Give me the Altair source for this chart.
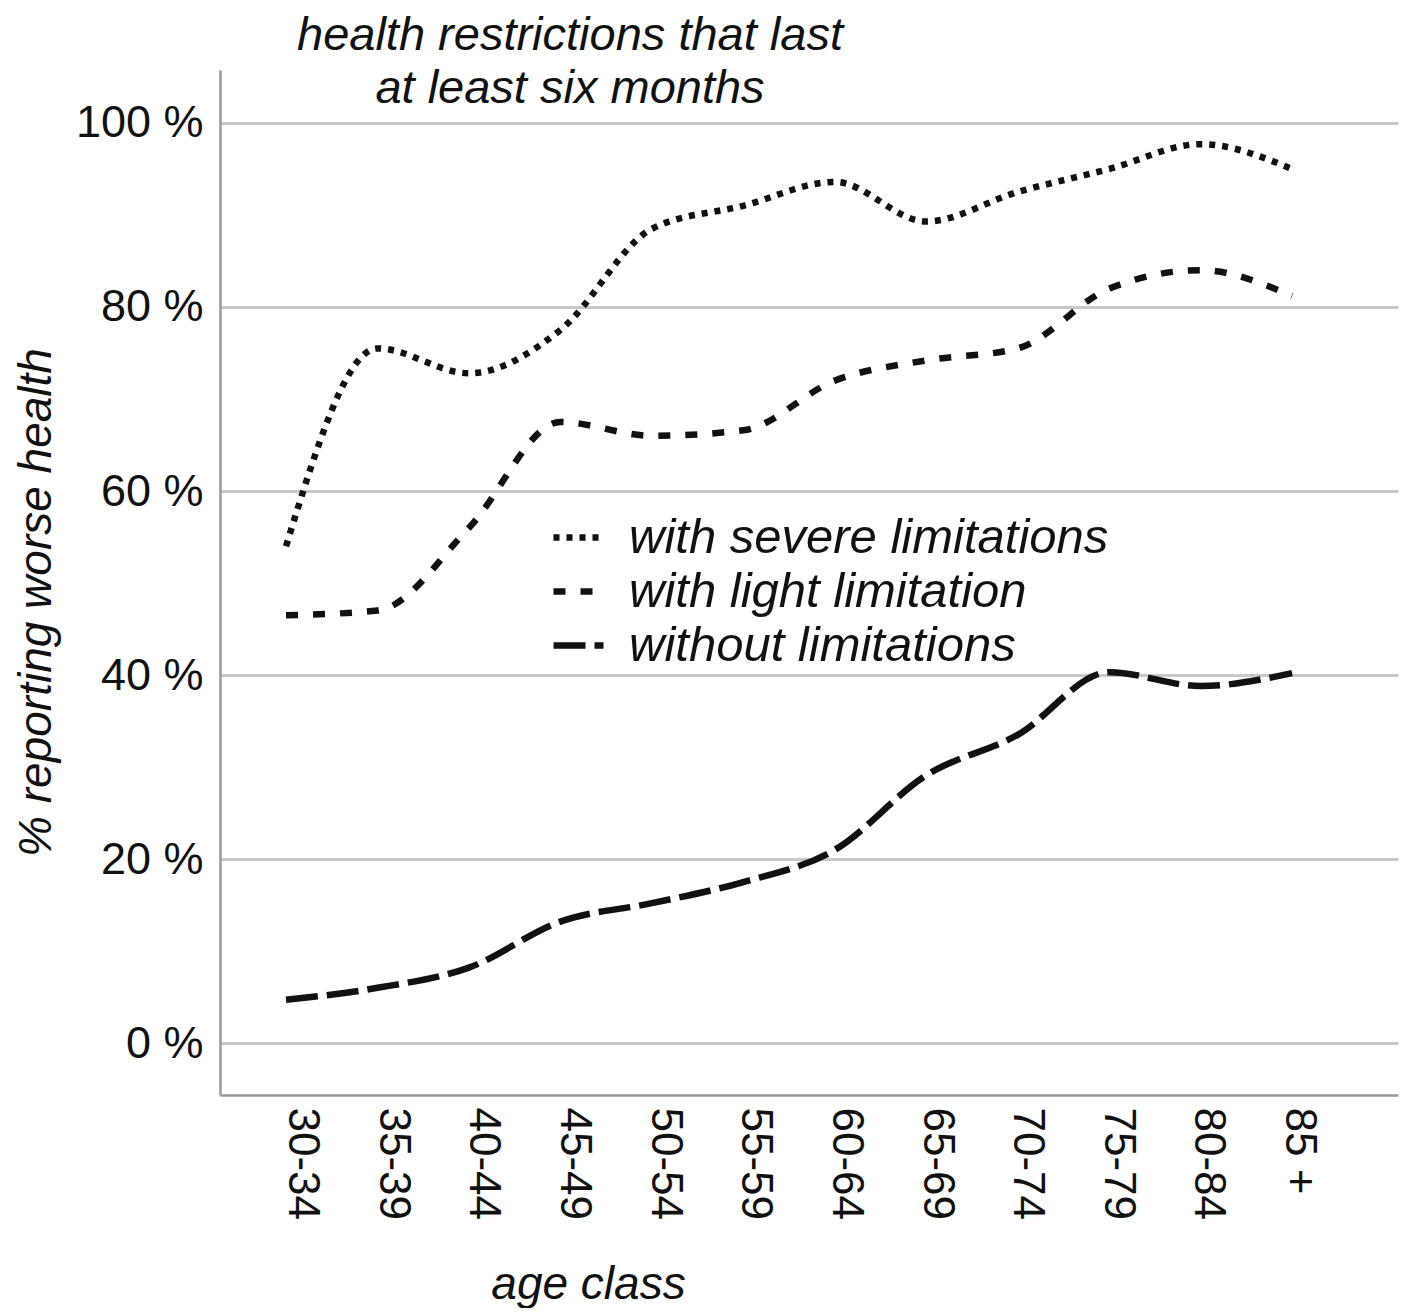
import altair as alt
import pandas as pd

ages = ["30-34", "35-39", "40-44", "45-49", "50-54", "55-59",
        "60-64", "65-69", "70-74", "75-79", "80-84", "85 +"]
severe = [54.0, 75.5, 72.8, 77.5, 88.5, 91.0, 93.6, 89.3, 92.5, 95.0, 97.7, 95.0]
light = [46.5, 47.0, 56.0, 67.5, 66.0, 66.6, 72.0, 74.2, 75.5, 82.0, 84.0, 81.2]
without = [4.7, 6.0, 8.2, 13.2, 15.2, 17.5, 21.0, 29.1, 33.5, 40.3, 38.8, 40.2]
series_names = ["with severe limitations", "with light limitation", "without limitations"]
title_lines = ["health restrictions that last", "at least six months"]
y_ticks = [0, 20, 40, 60, 80, 100]

rows = []
for name, vals in zip(series_names, [severe, light, without]):
    for a, v in zip(ages, vals):
        rows.append({"age": a, "series": name, "value": v})
df = pd.DataFrame(rows)

FONT = "Liberation Sans"
INK = "#111111"

y_scale = alt.Scale(domain=[-5.65, 105.76], nice=False, zero=False)

lines = alt.Chart(df).mark_line(
    interpolate="monotone", strokeWidth=6.5, color=INK
).encode(
    x=alt.X("age:N", sort=ages,
            scale=alt.Scale(type="point", padding=0.94, align=0.384),
            axis=None),
    y=alt.Y("value:Q", scale=y_scale,
            axis=alt.Axis(values=y_ticks, labelExpr="datum.value + ' %'",
                          labelFontSize=45, labelFont=FONT, labelColor=INK,
                          labelPadding=17, ticks=False,
                          domainColor="#999999", domainWidth=2.5,
                          gridColor="#c8c8c8", gridWidth=3,
                          title="% reporting worse health", titleFont=FONT,
                          titleFontSize=46, titleFontStyle="italic",
                          titleFontWeight="normal", titleColor=INK,
                          titleAngle=270, titleX=-184, titleY=532,
                          titleAlign="center", titleBaseline="middle")),
    strokeDash=alt.StrokeDash(
        "series:N", sort=series_names,
        scale=alt.Scale(domain=series_names, range=[[6, 7], [12, 15], [32, 9]]),
        legend=alt.Legend(orient="none", legendX=330, legendY=439, title=None,
                          symbolType="stroke", symbolSize=2500,
                          symbolStrokeWidth=6.5, symbolStrokeColor=INK,
                          labelFontSize=49, labelFont=FONT, labelLimit=0,
                          labelFontStyle="italic", labelColor=INK,
                          labelOffset=22, rowPadding=-4)),
)

axis_df = pd.DataFrame({"age": ages})
xaxis = alt.Chart(axis_df).mark_point(opacity=0).encode(
    x=alt.X("age:N", sort=ages,
            scale=alt.Scale(type="point", padding=1.166, align=0.451),
            axis=alt.Axis(orient="bottom", labelAngle=90, labelAlign="left",
                          labelBaseline="middle", labelPadding=12,
                          labelFontSize=44, labelFont=FONT, labelColor=INK,
                          ticks=False, grid=False, domainColor="#999999",
                          domainWidth=2.5,
                          title="age class", titleFont=FONT, titleFontSize=46,
                          titleFontStyle="italic", titleFontWeight="normal",
                          titleColor=INK, titleX=368, titleY=189,
                          titleAlign="center", titleBaseline="middle")),
)

title_df = pd.DataFrame({"t": ["\n".join(title_lines)]})
title_text = alt.Chart(title_df).mark_text(
    lineBreak="\n", font=FONT, fontSize=47, fontStyle="italic",
    align="center", baseline="top", lineHeight=53, color=INK
).encode(
    text="t:N",
    x=alt.value(350),
    y=alt.value(-57),
)

chart = alt.layer(lines, xaxis, title_text).resolve_scale(x="independent").properties(
    width=1178, height=1025,
    autosize=alt.AutoSizeParams(type="none"),
    padding={"left": 212, "top": 62, "right": 12, "bottom": 213},
    background="white",
).configure_view(stroke=None)

chart.save("out.html", embed_options={"renderer": "svg", "actions": False})
